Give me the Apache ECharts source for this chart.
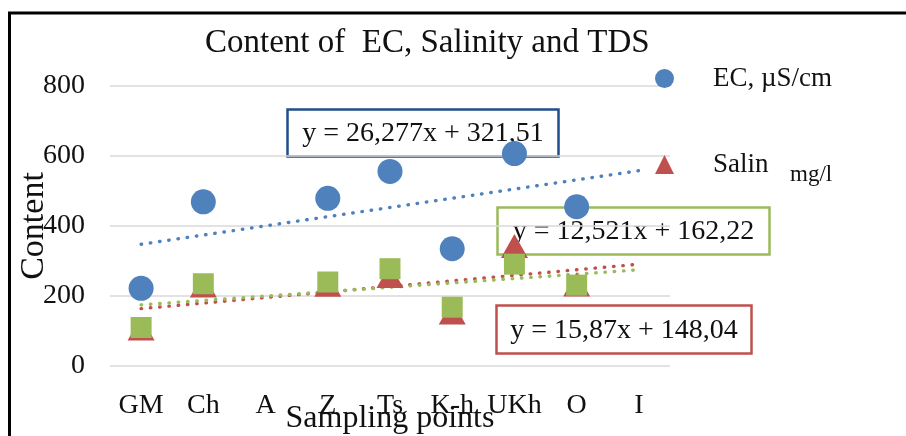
<!DOCTYPE html>
<html>
<head>
<meta charset="utf-8">
<script src="https://cdn.jsdelivr.net/npm/echarts@6/dist/echarts.min.js"></script>
<style>
  html, body { margin: 0; padding: 0; background: #ffffff; }
  #chart { width: 906px; height: 436px; }
</style>
</head>
<body>
<div id="chart"></div>
<script>
// Sampling points along the x axis
const categories = ['GM', 'Ch', 'A', 'Z', 'Ts', 'K-h', 'UKh', 'O', 'I'];

// Measured values per sampling point (null = not measured)
const ecValues       = [222, 469, null, 479, 556, 335, 607, 455, null];
const salinityValues = [107, 230, null, 232, 257, 153, 343, 233, null];
const tdsValues      = [110, 235, null, 240, 278, 168, 291, 231, null];

// Linear trendlines y = slope * x + intercept, x = 1..9 (point index)
const trendSlopes     = [26.277, 15.87, 12.521];
const trendIntercepts = [321.51, 148.04, 162.22];

const yTicks = { min: 0, max: 800, interval: 200 };

const SERIF = '"Liberation Serif", "Times New Roman", serif';
const BLUE = '#4f81bd', RED = '#c0504d', GREEN = '#9bbb59';

function trendData(i) {
  return categories.map((_, k) => +(trendSlopes[i] * (k + 1) + trendIntercepts[i]).toFixed(3));
}
function fmt(v) { return String(v).replace('.', ','); }
function equation(i) {
  return 'y = ' + fmt(trendSlopes[i]) + 'x + ' + fmt(trendIntercepts[i]);
}

const chart = echarts.init(document.getElementById('chart'), null, { renderer: 'canvas' });

function trendSeries(i, color) {
  return {
    name: 'trend' + i,
    type: 'line',
    data: trendData(i),
    showSymbol: false,
    silent: true,
    z: 1,
    lineStyle: { color: color, width: 3.4, type: [0.5, 8.8], cap: 'round' }
  };
}

function eqBox(i, x, y, w, h, color) {
  return {
    type: 'group',
    left: x, top: y, z: 50,
    children: [
      { type: 'rect', shape: { x: 0, y: 0, width: w, height: h },
        style: { fill: 'none', stroke: color, lineWidth: 2.5 } },
      { type: 'text', x: w / 2, y: h / 2 + 1,
        style: { text: equation(i), font: '28px ' + SERIF, fill: '#111',
                 align: 'center', verticalAlign: 'middle' } }
    ]
  };
}

chart.setOption({
  animation: false,
  backgroundColor: '#ffffff',
  title: {
    text: 'Content of  EC, Salinity and TDS',
    left: 200, top: 22,
    textStyle: { fontFamily: SERIF, fontSize: 33, fontWeight: 'normal', color: '#111' }
  },
  legend: {
    orient: 'vertical',
    left: 650, top: 60,
    itemWidth: 19, itemHeight: 19,
    itemGap: 59,
    textStyle: { fontFamily: SERIF, fontSize: 27, color: '#111', padding: [0, 0, 0, 34] },
    data: [
      { name: 'EC, µS/cm', icon: 'circle' },
      { name: 'Salinity, mg/l', icon: 'triangle',
        textStyle: { width: 60, overflow: 'truncate', ellipsis: '' } }
    ]
  },
  grid: { left: 110, right: 236, top: 86, bottom: 70, outerBoundsMode: 'none', containLabel: false },
  xAxis: {
    type: 'category',
    data: categories,
    boundaryGap: true,
    axisLine: { show: false },
    axisTick: { show: false },
    axisLabel: { fontFamily: SERIF, fontSize: 28, color: '#111', margin: 26, interval: 0 },
    name: 'Sampling points',
    nameLocation: 'middle',
    nameGap: 37,
    nameMoveOverlap: false,
    nameTextStyle: { fontFamily: SERIF, fontSize: 32, color: '#111' }
  },
  yAxis: {
    type: 'value',
    min: yTicks.min, max: yTicks.max, interval: yTicks.interval,
    axisLine: { show: false },
    axisTick: { show: false },
    splitLine: { lineStyle: { color: '#d9d9d9', width: 1.5 } },
    axisLabel: { fontFamily: SERIF, fontSize: 28, color: '#111', margin: 25, padding: [5, 0, 0, 0] },
    name: 'Content',
    nameLocation: 'middle',
    nameRotate: 90,
    nameGap: 76,
    nameMoveOverlap: false,
    nameTextStyle: { fontFamily: SERIF, fontSize: 34, color: '#111', verticalAlign: 'middle', align: 'center' }
  },
  series: [
    trendSeries(0, BLUE),
    trendSeries(1, RED),
    trendSeries(2, GREEN),
    {
      name: 'EC, µS/cm', type: 'scatter', data: ecValues, z: 3,
      symbol: 'circle', symbolSize: 25,
      itemStyle: { color: BLUE, opacity: 1 }
    },
    {
      name: 'Salinity, mg/l', type: 'scatter', data: salinityValues, z: 4,
      symbol: 'triangle', symbolSize: [27, 24],
      itemStyle: { color: RED, opacity: 1 }
    },
    {
      name: 'TDS, mg/l', type: 'scatter', data: tdsValues, z: 5,
      symbol: 'rect', symbolSize: 21,
      itemStyle: { color: GREEN, opacity: 1 }
    }
  ],
  graphic: [
    // chart frame: top and left edges
    { type: 'line', shape: { x1: 8, y1: 13, x2: 906, y2: 13 }, style: { stroke: '#000', lineWidth: 3 }, z: 100 },
    { type: 'line', shape: { x1: 9.5, y1: 13, x2: 9.5, y2: 436 }, style: { stroke: '#000', lineWidth: 3 }, z: 100 },
    eqBox(0, 285, 107, 271, 47, '#1f4e8c'),
    eqBox(2, 495, 205, 272, 47, '#9bbb59'),
    eqBox(1, 494, 303, 255, 48, '#c0504d'),
    { type: 'text', left: 790, top: 163, z: 60,
      style: { text: 'mg/l', font: '23px ' + SERIF, fill: '#111' } }
  ]
});
</script>
</body>
</html>
